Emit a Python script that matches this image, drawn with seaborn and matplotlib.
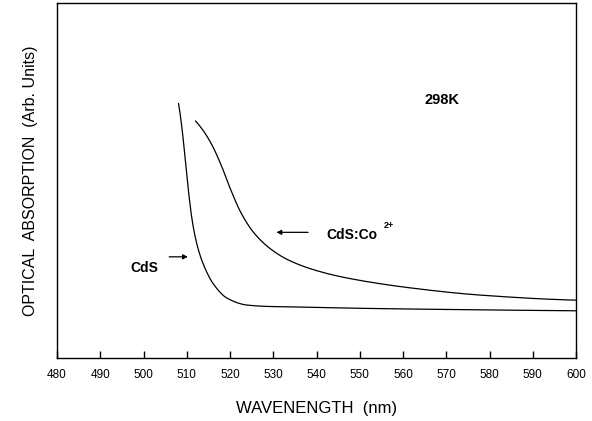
import numpy as np
import pandas as pd
import matplotlib
matplotlib.use("Agg")
import matplotlib.pyplot as plt
import seaborn as sns
from scipy.interpolate import PchipInterpolator

# CdS curve (wavelength nm, absorption arb. units)
cds_wl = [508.1, 508.9, 509.7, 510.5, 511.3, 512.4, 513.9, 516.3, 519.4, 524.0, 529.4, 534.1, 550.0, 575.0, 600.0]
cds_abs = [71.7, 64.7, 55.3, 45.9, 38.4, 31.8, 26.2, 20.6, 16.8, 14.9, 14.5, 14.4, 14.0, 13.6, 13.3]

# CdS:Co2+ curve
co_wl = [512.0, 513.9, 516.0, 518.2, 520.1, 522.5, 525.5, 529.4, 533.5, 539.5, 547.2, 562.7, 578.1, 600.0]
co_abs = [66.8, 63.9, 59.6, 53.6, 47.6, 41.0, 35.3, 30.7, 27.6, 24.8, 22.5, 19.6, 17.7, 16.3]

x_ticks = [480, 490, 500, 510, 520, 530, 540, 550, 560, 570, 580, 590, 600]

sns.set_style("white")
plt.rcParams['font.family'] = ['Liberation Sans', 'DejaVu Sans']
plt.rcParams['text.color'] = 'black'
plt.rcParams['axes.labelcolor'] = 'black'
plt.rcParams['xtick.color'] = 'black'

df = pd.concat([
    pd.DataFrame({"wl": cds_wl, "abs": cds_abs, "sample": "CdS"}),
    pd.DataFrame({"wl": co_wl, "abs": co_abs, "sample": "CdS:Co"}),
])

fig = plt.figure(figsize=(5.92, 4.21), dpi=100)
ax = fig.add_axes([57/592, 63/421, (576-57)/592, (358-3)/421])

for name in ["CdS", "CdS:Co"]:
    sub = df[df["sample"] == name]
    f = PchipInterpolator(sub["wl"].values, sub["abs"].values)
    xs = np.linspace(sub["wl"].min(), sub["wl"].max(), 500)
    sns.lineplot(x=xs, y=f(xs), ax=ax, color="black", linewidth=0.9, sort=False)

ax.set_xlim(480, 600)
ax.set_ylim(0, 100)
ax.set_xticks(x_ticks)
ax.set_xticklabels([str(t) for t in x_ticks], fontsize=8.5)
ax.set_yticks([])
ax.tick_params(axis='x', direction='in', length=5, width=1, pad=8, bottom=True, top=False, color='black')
for s in ax.spines.values():
    s.set_color('black')
    s.set_linewidth(1.0)

ax.set_xlabel("WAVENENGTH  (nm)", fontsize=12, labelpad=14)
ax.set_ylabel("OPTICAL  ABSORPTION  (Arb. Units)", fontsize=11.5, labelpad=14)

ax.text(569.1, 72.7, "298K", fontsize=10.5, fontweight='bold', ha='center', va='center')
ax.text(542.2, 34.6, "CdS:Co", fontsize=10, fontweight='bold', ha='left', va='center')
ax.text(555.6, 37.4, "2+", fontsize=6.5, fontweight='bold', ha='left', va='center')
ax.text(503.3, 25.4, "CdS", fontsize=10, fontweight='bold', ha='right', va='center')
ax.annotate("", xy=(530.1, 35.4), xytext=(538.7, 35.4),
            arrowprops=dict(arrowstyle='-|>', color='black', lw=0.9, mutation_scale=7))
ax.annotate("", xy=(510.9, 28.5), xytext=(505.3, 28.5),
            arrowprops=dict(arrowstyle='-|>', color='black', lw=0.9, mutation_scale=7))

fig.savefig("out.png", dpi=100)
